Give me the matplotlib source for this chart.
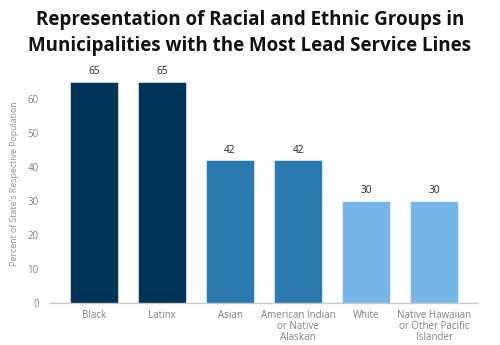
import matplotlib.pyplot as plt

# data
categories = ["Black", "Latinx", "Asian", "American Indian\nor Native\nAlaskan",
              "White", "Native Hawaiian\nor Other Pacific\nIslander"]
values = [65, 65, 42, 42, 30, 30]
colors = ["#003358", "#003358", "#2c7bb0", "#2c7bb0", "#76b5e8", "#76b5e8"]

plt.rcParams['font.family'] = ['Open Sans', 'DejaVu Sans']

fig = plt.figure(figsize=(5, 3.45), dpi=100)
ax = fig.add_axes([0.10, 0.123, 0.856, 0.69])

x = range(len(categories))
bars = ax.bar(x, values, width=0.7, color=colors, edgecolor="#ffffff", linewidth=0.4)
for b, v in zip(bars, values):
    ax.text(b.get_x() + b.get_width() / 2, v + 1.2, str(v), ha="center", va="bottom",
            fontsize=7.2, color="#222222")

ax.set_xlim(-0.647, 5.647)
ax.set_ylim(0, 70)
ax.set_yticks(range(0, 70, 10))
ax.set_xticks(list(x))
ax.set_xticklabels(categories, fontsize=7, color="#808080", linespacing=1.0)
ax.tick_params(axis="y", labelsize=7, labelcolor="#808080", length=0, pad=8)
ax.tick_params(axis="x", length=0, pad=5)
ax.set_ylabel("Percent of State's Respective Population", fontsize=6.3, color="#909090",
              labelpad=6)
for s in ["top", "right", "left"]:
    ax.spines[s].set_visible(False)
ax.spines["bottom"].set_color("#c8c8c8")
ax.spines["bottom"].set_linewidth(1.0)

fig.text(0.5, 0.972, "Representation of Racial and Ethnic Groups in\nMunicipalities with the Most Lead Service Lines",
         ha="center", va="top", fontsize=13.5, fontweight="bold", color="#111111", linespacing=1.4)

fig.savefig("out.png", dpi=100)
